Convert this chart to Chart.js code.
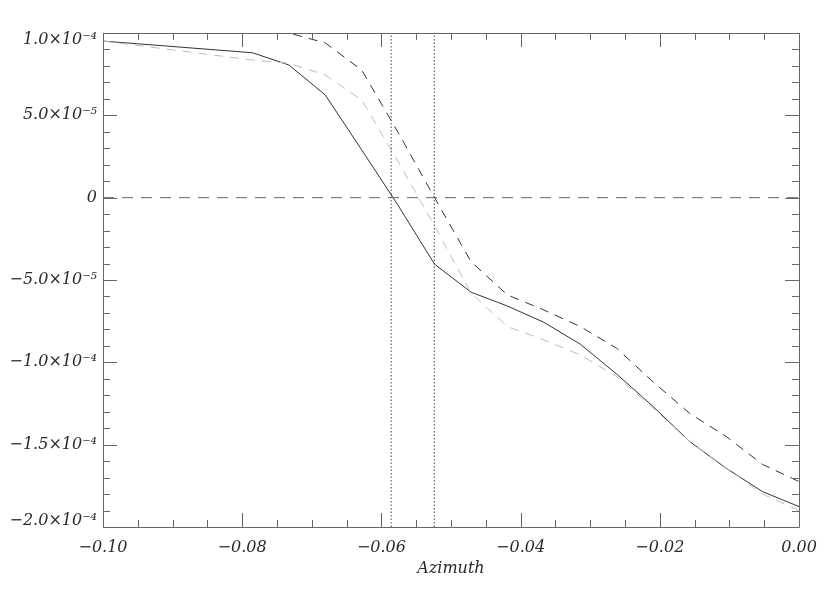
<!DOCTYPE html>
<html>
<head>
<meta charset="utf-8">
<script src="https://cdn.jsdelivr.net/npm/chart.js@4"></script>
<style>
  html, body { margin: 0; padding: 0; background: #ffffff; }
  #wrap { width: 830px; height: 593px; position: relative; }
</style>
</head>
<body>
<div id="wrap"><canvas id="azimuth-chart"></canvas></div>
<script>
// azimuth samples (x axis)
const azimuth = [-0.1, -0.07854, -0.0733, -0.06807, -0.06283, -0.0576, -0.05236, -0.04712,
  -0.04189, -0.03665, -0.03142, -0.02618, -0.02094, -0.01571, -0.01047, -0.00524, 0];

// curve values, in units of 1e-5
const solidCurve = [9.51, 8.8, 8.06, 6.24, 2.9, -0.47, -4.04, -5.74,
  -6.58, -7.57, -8.9, -10.72, -12.69, -14.81, -16.43, -17.85, -18.76];
const darkDashed = [11.2, 10.6, 10.0, 9.4, 7.75, 3.96, 0.0, -3.89,
  -5.91, -6.82, -7.83, -9.15, -11.2, -13.1, -14.5, -16.2, -17.24];
const greyDashed = [9.51, 8.36, 8.16, 7.45, 5.93, 2.2, -1.72, -5.79,
  -7.83, -8.64, -9.55, -10.87, -12.8, -14.8, -16.4, -18.0, -19.0];

// vertical markers (zero crossings) and the zero reference line
const markerX = [-0.0586, -0.0524];
const zeroLevel = 0;

// axis ranges and ticks
const xRange = [-0.1, 0];
const yRange = [-20, 10];
const xTickValues = [-0.1, -0.08, -0.06, -0.04, -0.02, 0];
const xTickLabels = ['\u22120.10', '\u22120.08', '\u22120.06', '\u22120.04', '\u22120.02', '0.00'];
const yTickValues = [-20, -15, -10, -5, 0, 5, 10];
const yTickLabels = ['\u22122.0\u00d710\u207b\u2074', '\u22121.5\u00d710\u207b\u2074', '\u22121.0\u00d710\u207b\u2074',
  '\u22125.0\u00d710\u207b\u2075', '0', '5.0\u00d710\u207b\u2075', '1.0\u00d710\u207b\u2074'];
const xMinorStep = 0.005;
const yMinorStep = 1;

const toPoints = (ys) => azimuth.map((x, i) => ({ x: x, y: ys[i] }));

// IDL style inward ticks on all four sides + frame
const frameTicks = {
  id: 'frameTicks',
  afterDatasetsDraw(chart) {
    const { ctx, chartArea: a, scales } = chart;
    const xs = scales.x, ys = scales.y;
    ctx.save();
    ctx.strokeStyle = '#666666';
    ctx.lineWidth = 1;
    ctx.beginPath();
    ctx.rect(a.left + 0.5, a.top + 0.5, a.right - a.left, a.bottom - a.top);
    ctx.stroke();
    ctx.beginPath();
    for (let v = xRange[0]; v <= xRange[1] + 1e-9; v += xMinorStep) {
      const major = xTickValues.some(t => Math.abs(t - v) < 1e-6);
      const len = major ? 14 : 7;
      const px = Math.round(xs.getPixelForValue(v)) + 0.5;
      ctx.moveTo(px, a.bottom); ctx.lineTo(px, a.bottom - len);
      ctx.moveTo(px, a.top); ctx.lineTo(px, a.top + len);
    }
    for (let v = yRange[0]; v <= yRange[1] + 1e-9; v += yMinorStep) {
      const major = yTickValues.some(t => Math.abs(t - v) < 1e-6);
      const len = major ? 14 : 7;
      const py = Math.round(ys.getPixelForValue(v)) + 0.5;
      ctx.moveTo(a.left, py); ctx.lineTo(a.left + len, py);
      ctx.moveTo(a.right, py); ctx.lineTo(a.right - len, py);
    }
    ctx.stroke();
    ctx.restore();
  }
};

const labelFont = { family: 'DejaVu Serif', style: 'italic', size: 16 };

const ctx = document.getElementById('azimuth-chart').getContext('2d');
new Chart(ctx, {
  type: 'line',
  data: {
    datasets: [
      {
        data: [{ x: xRange[0], y: zeroLevel }, { x: xRange[1], y: zeroLevel }],
        borderColor: '#666666', borderWidth: 1, borderDash: [11, 8]
      },
      {
        data: [{ x: markerX[0], y: yRange[0] }, { x: markerX[0], y: yRange[1] }],
        borderColor: '#444444', borderWidth: 1, borderDash: [1.5, 2]
      },
      {
        data: [{ x: markerX[1], y: yRange[0] }, { x: markerX[1], y: yRange[1] }],
        borderColor: '#444444', borderWidth: 1, borderDash: [1.5, 2]
      },
      {
        data: toPoints(greyDashed),
        borderColor: '#bdbdbd', borderWidth: 1, borderDash: [9, 7]
      },
      {
        data: toPoints(darkDashed),
        borderColor: '#333333', borderWidth: 1, borderDash: [9, 7]
      },
      {
        data: toPoints(solidCurve),
        borderColor: '#333333', borderWidth: 1
      }
    ]
  },
  options: {
    responsive: true,
    maintainAspectRatio: false,
    animation: false,
    layout: { padding: { left: 0, right: 31, top: 33, bottom: 0 } },
    elements: { point: { radius: 0 }, line: { tension: 0, fill: false } },
    plugins: {
      legend: { display: false },
      tooltip: { enabled: false }
    },
    scales: {
      x: {
        type: 'linear',
        min: xRange[0],
        max: xRange[1],
        grid: { display: false, drawTicks: false },
        border: { display: false },
        afterBuildTicks: (scale) => { scale.ticks = xTickValues.map(v => ({ value: v })); },
        afterFit: (scale) => { scale.height = 66; },
        ticks: {
          color: '#2a2a2a',
          font: labelFont,
          padding: 11,
          maxRotation: 0,
          autoSkip: false,
          callback: (value, index) => xTickLabels[index]
        },
        title: {
          display: true,
          text: 'Azimuth',
          color: '#2a2a2a',
          font: labelFont,
          padding: { top: 0, bottom: 15 }
        }
      },
      y: {
        type: 'linear',
        min: yRange[0],
        max: yRange[1],
        grid: { display: false, drawTicks: false },
        border: { display: false },
        afterBuildTicks: (scale) => { scale.ticks = yTickValues.map(v => ({ value: v })); },
        afterFit: (scale) => { scale.width = 103; },
        ticks: {
          color: '#2a2a2a',
          font: Object.assign({}, labelFont, { lineHeight: 0.8 }),
          padding: 6,
          autoSkip: false,
          // end labels are kept inside the frame, as in the original plot
          callback: (value, index) => {
            const label = yTickLabels[index];
            if (index === 0) return [label, ''];
            if (index === yTickLabels.length - 1) return ['', label];
            return label;
          }
        }
      }
    }
  },
  plugins: [frameTicks]
});
</script>
</body>
</html>
